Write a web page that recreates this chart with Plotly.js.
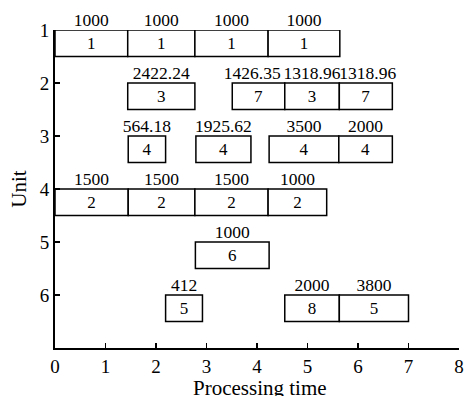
<!DOCTYPE html>
<html>
<head>
<meta charset="utf-8">
<script src="https://cdn.plot.ly/plotly-3.0.1.min.js"></script>
<style>html,body{margin:0;padding:0;background:#fff;}#chart{width:467px;height:396px;}</style>
</head>
<body>
<div id="chart"></div>
<script>
// Gantt data: unit (machine), start, end, job number, label above bar
const units  = [1, 1, 1, 1,   2, 2, 2, 2,   3, 3, 3, 3,   4, 4, 4, 4,   5,   6, 6, 6];
const starts = [0, 1.44, 2.77, 4.22,   1.44, 3.51, 4.55, 5.63,   1.45, 2.79, 4.24, 5.62,   0, 1.45, 2.77, 4.22,   2.78,   2.19, 4.55, 5.63];
const ends   = [1.44, 2.77, 4.22, 5.64,   2.77, 4.55, 5.63, 6.68,   2.19, 3.88, 5.62, 6.68,   1.45, 2.77, 4.22, 5.38,   4.24,   2.92, 5.63, 7.0];
const jobs   = [1, 1, 1, 1,   3, 7, 3, 7,   4, 4, 4, 4,   2, 2, 2, 2,   6,   5, 8, 5];
const costs  = ["1000", "1000", "1000", "1000",
                "2422.24", "1426.35", "1318.96", "1318.96",
                "564.18", "1925.62", "3500", "2000",
                "1500", "1500", "1500", "1000",
                "1000",
                "412", "2000", "3800"];
// label alignment: c = centred on bar, e = right-aligned at bar end, s = left-aligned at bar start
const labelAlign = ["c","c","c","c", "c","e","c","s", "c","c","c","c", "c","c","c","c", "c", "c","c","c"];
const xTicks = [0, 1, 2, 3, 4, 5, 6, 7, 8];
const yTicks = [1, 2, 3, 4, 5, 6];
const xTitle = "Processing time";
const yTitle = "Unit";

const FONT = "'Liberation Serif', 'Times New Roman', Times, serif";

const bars = {
  type: "bar",
  orientation: "h",
  y: units,
  base: starts,
  x: ends.map((e, i) => e - starts[i]),
  width: 0.5,
  offset: 0,
  text: jobs.map(String),
  textposition: "inside",
  insidetextanchor: "middle",
  textangle: 0,
  constraintext: "none",
  insidetextfont: {family: FONT, size: 17, color: "#000"},
  marker: {color: "#fff", line: {color: "#000", width: 1.5}},
  hoverinfo: "skip",
  showlegend: false
};

const labelX = labelAlign.map((a, i) => a === "e" ? ends[i] - 0.08 : a === "s" ? starts[i] : (starts[i] + ends[i]) / 2);
const labelPos = labelAlign.map(a => a === "e" ? "top left" : a === "s" ? "top right" : "top center");

const labels = {
  type: "scatter",
  mode: "text",
  x: labelX,
  y: units,
  text: costs,
  textposition: labelPos,
  textfont: {family: FONT, size: 17.5, color: "#000"},
  hoverinfo: "skip",
  showlegend: false,
  cliponaxis: false
};

const layout = {
  width: 467, height: 396,
  margin: {l: 55, r: 8, t: 30, b: 48},
  paper_bgcolor: "#fff", plot_bgcolor: "#fff",
  font: {family: FONT, color: "#000", size: 19},
  showlegend: false,
  xaxis: {
    range: [0, 8], tickvals: xTicks, ticktext: xTicks.map(String),
    showline: true, linecolor: "#000", linewidth: 2,
    ticks: "inside", ticklen: 5, tickwidth: 1.5, tickcolor: "#000",
    showgrid: false, zeroline: false,
    tickfont: {family: FONT, size: 19}
  },
  yaxis: {
    range: [7, 1], tickvals: yTicks, ticktext: yTicks.map(String),
    showline: true, linecolor: "#000", linewidth: 2,
    ticks: "inside", ticklen: 5, tickwidth: 1.5, tickcolor: "#000",
    showgrid: false, zeroline: false,
    tickfont: {family: FONT, size: 19},
    title: {text: yTitle, font: {family: FONT, size: 21}, standoff: 7}
  },
  annotations: [{
    text: xTitle, xref: "paper", yref: "paper", x: 0.5, y: 0,
    xanchor: "center", yanchor: "top", xshift: 3, yshift: -26,
    showarrow: false, font: {family: FONT, size: 21, color: "#000"}
  }]
};

Plotly.newPlot("chart", [bars, labels], layout, {displayModeBar: false, staticPlot: true});
</script>
</body>
</html>
